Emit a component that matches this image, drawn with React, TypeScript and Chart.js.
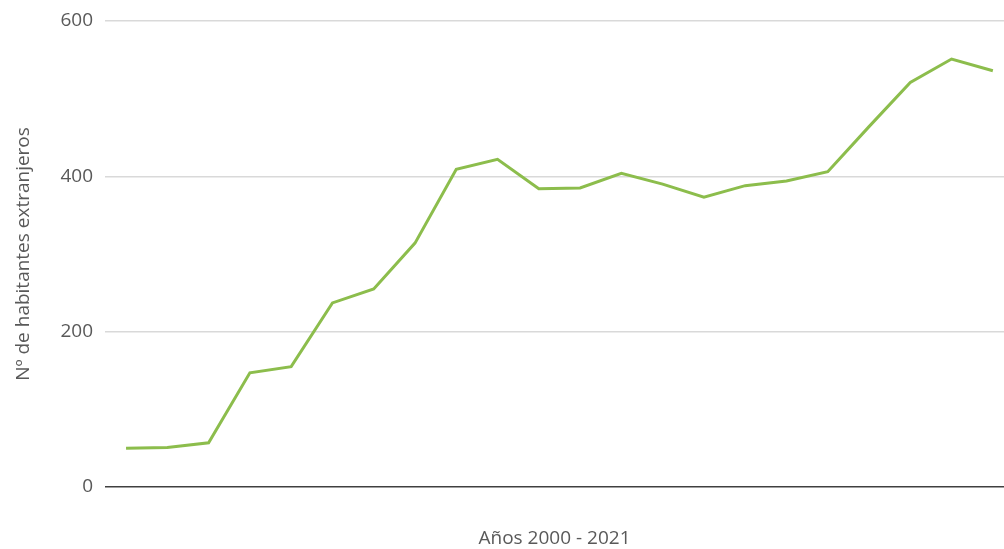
import React, { useEffect, useRef } from "react";
import { Chart, registerables } from "chart.js";

Chart.register(...registerables);

const years = [
  2000, 2001, 2002, 2003, 2004, 2005, 2006, 2007, 2008, 2009, 2010,
  2011, 2012, 2013, 2014, 2015, 2016, 2017, 2018, 2019, 2020, 2021,
];
const habitantes = [
  50, 51, 57, 147, 155, 237, 255, 314, 409, 422, 384,
  385, 404, 390, 373, 388, 394, 406, 464, 521, 551, 536,
];
const yTicks = [0, 200, 400, 600];
const yTitle = "Nº de habitantes extranjeros";
const xTitle = "Años 2000 - 2021";

const FONT = "'Open Sans', sans-serif";
const TEXT = "#595959";

export default function App() {
  const ref = useRef<HTMLCanvasElement | null>(null);

  useEffect(() => {
    if (!ref.current) return;
    const chart = new Chart(ref.current, {
      type: "line",
      data: {
        datasets: [
          {
            label: yTitle,
            data: years.map((y, i) => ({ x: i, y: habitantes[i] })),
            borderColor: "#8cbd4c",
            backgroundColor: "#8cbd4c",
            borderWidth: 3,
            pointRadius: 0,
            tension: 0,
          },
        ],
      },
      options: {
        animation: false,
        responsive: false,
        maintainAspectRatio: false,
        layout: { padding: { top: 21, right: 0, bottom: 0, left: 0 } },
        plugins: { legend: { display: false }, tooltip: { enabled: false } },
        scales: {
          x: {
            type: "linear",
            min: -0.51,
            max: 21.27,
            grid: { display: false },
            border: { display: false },
            ticks: { display: false },
            title: {
              display: true,
              text: xTitle,
              color: TEXT,
              font: { family: FONT, size: 19 },
              padding: { top: 0, bottom: -1 },
            },
            afterFit: (s: any) => {
              s.height = 62;
            },
          },
          y: {
            min: 0,
            max: 600,
            afterBuildTicks: (s: any) => {
              s.ticks = yTicks.map((v) => ({ value: v }));
            },
            grid: {
              drawTicks: false,
              color: (c: any) => (c.tick && c.tick.value === 0 ? "#404040" : "#d9d9d9"),
              lineWidth: 1.5,
            },
            border: { display: false },
            ticks: {
              padding: 12,
              color: TEXT,
              font: { family: FONT, size: 19 },
            },
            title: {
              display: true,
              text: yTitle,
              color: TEXT,
              font: { family: FONT, size: 19 },
              padding: { top: 12, bottom: 0 },
            },
            afterFit: (s: any) => {
              s.width = 105;
              s.paddingTop = 0;
              s.paddingBottom = 0;
            },
          },
        },
      },
    });
    return () => chart.destroy();
  }, []);

  return (
    <div style={{ position: "absolute", left: 0, top: 0, width: 1004, height: 549, background: "#fff" }}>
      <canvas ref={ref} width={1004} height={549} style={{ width: 1004, height: 549 }} />
    </div>
  );
}
